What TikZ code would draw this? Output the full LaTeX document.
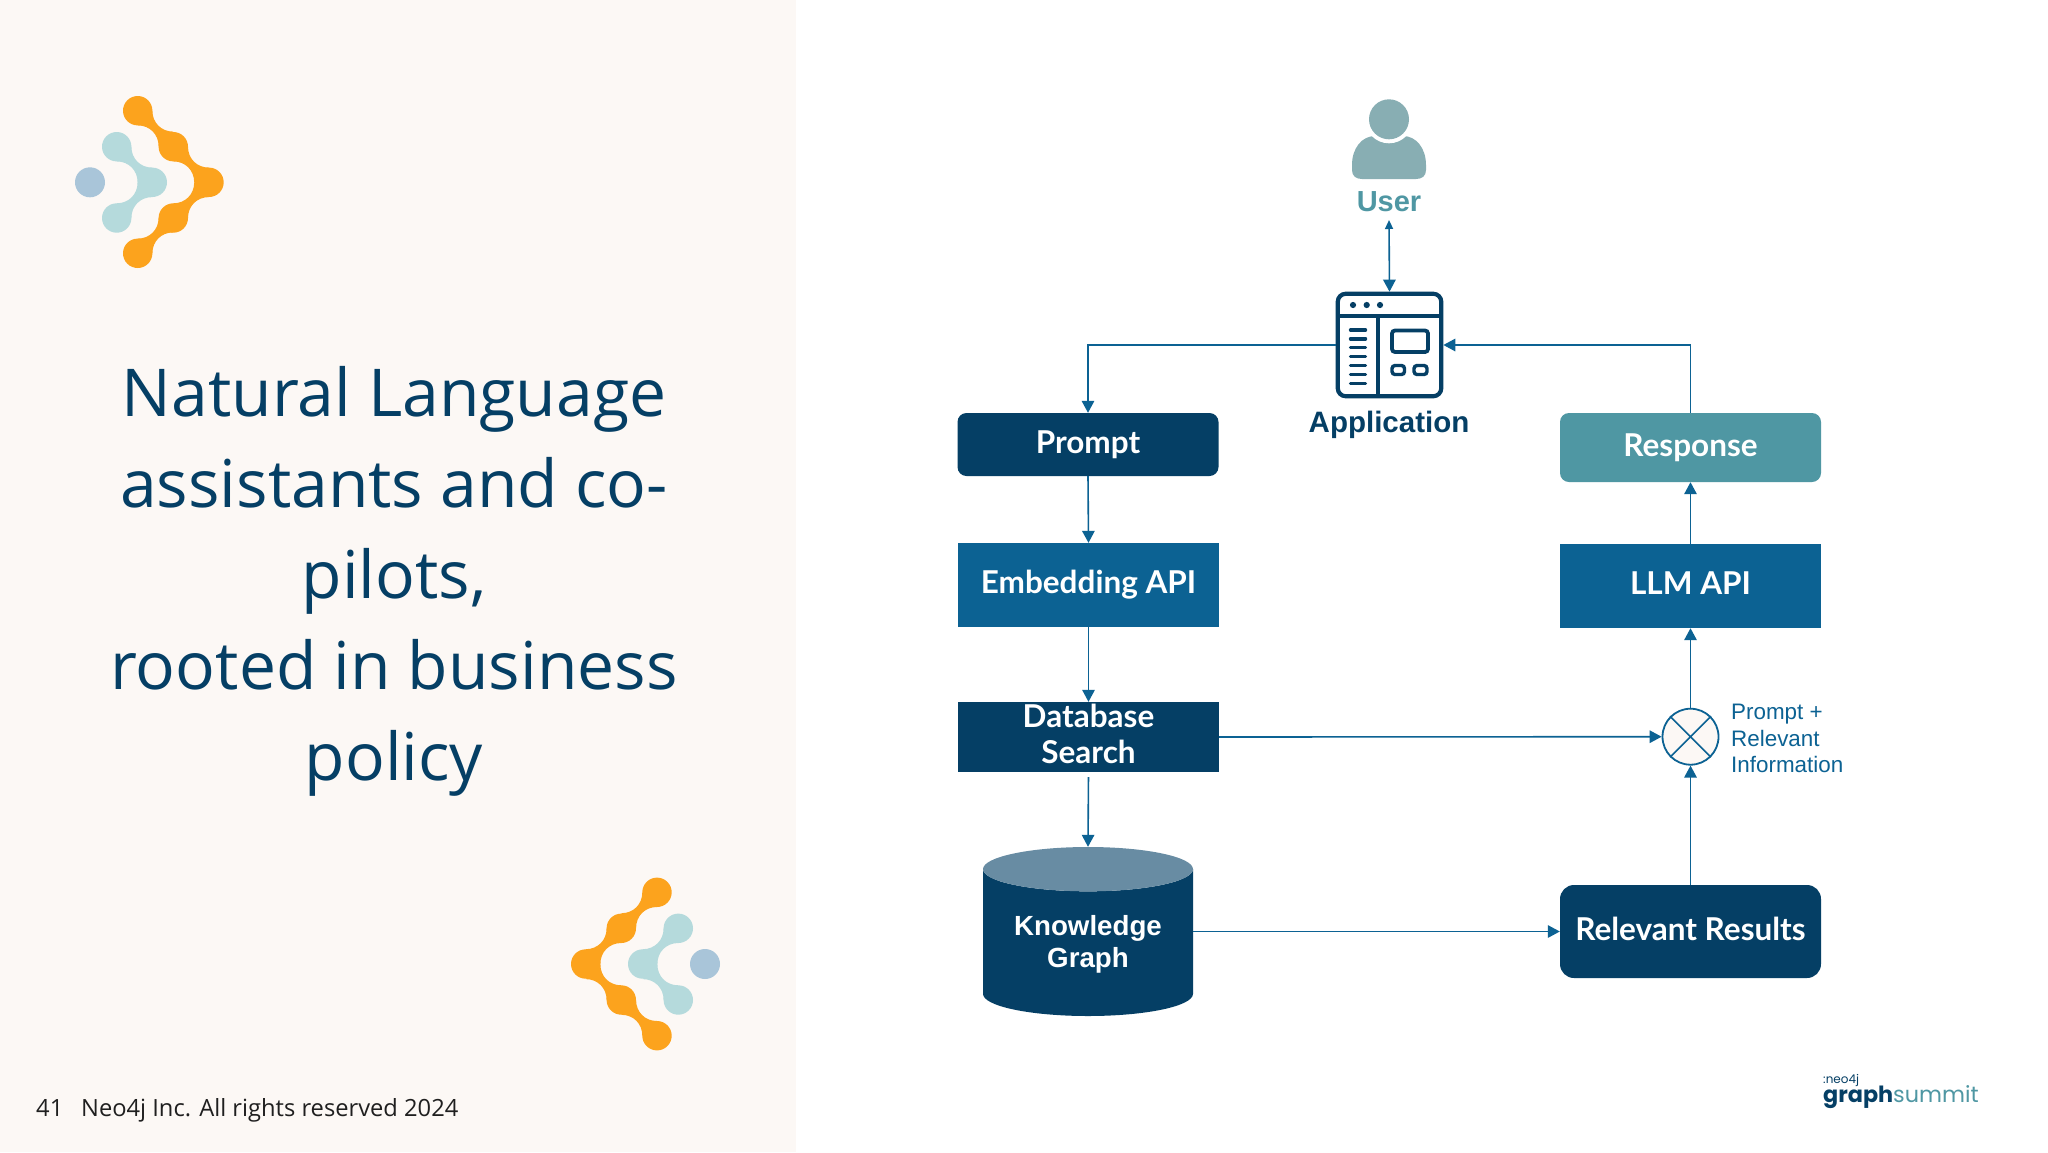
\documentclass[tikz,border=0pt]{standalone}
\usepackage{fontspec}
\usetikzlibrary{arrows.meta,shapes.geometric}
\setmainfont{Liberation Sans}
\newfontfamily\titlefont{Open Sans}
\newfontfamily\boxfont{Lato}
\newfontfamily\logofont{Poppins}
\definecolor{panel}{HTML}{FCF8F5}
\definecolor{navy}{HTML}{053F65}
\definecolor{midblue}{HTML}{0C6293}
\definecolor{tealbox}{HTML}{4F97A3}
\definecolor{usergrey}{HTML}{88AEB3}
\definecolor{cyltop}{HTML}{688CA3}
\definecolor{orangeL}{HTML}{FCA31D}
\definecolor{tealL}{HTML}{B5DADC}
\definecolor{blueL}{HTML}{A9C5D9}
\newcommand\neck[5]{\fill[#1,shift={(#2,#3)},xscale=#4,yscale=#5]
  (0,14.7) .. controls (12,14.7) and (20.9,23.6) .. (20.9,35.6) -- (35.6,20.9)
  .. controls (23.6,20.9) and (14.7,12) .. (14.7,0) -- cycle;}
\tikzset{
  boxfontstyle/.style={text=white,minimum width=261pt,inner sep=0pt,
    font=\boxfont\bfseries\fontsize{31.5}{36}\selectfont},
  boxbase/.style={boxfontstyle,text height=22pt,text depth=5pt},
  darkround/.style={boxbase,fill=navy,rounded corners=9pt},
  tealround/.style={boxbase,fill=tealbox,rounded corners=9pt},
  bluerect/.style={boxbase,fill=midblue},
  conn/.style={draw=midblue,line width=1.6pt,-{Triangle[length=12pt,width=12.5pt]}},
  titleline/.style={text=navy,font=\titlefont\fontsize{66}{80}\selectfont,anchor=base,inner sep=0pt},
  iconline/.style={draw=navy,line width=4.2pt},
}
\begin{document}
\begin{tikzpicture}[x=1pt,y=-1pt]
\useasboundingbox (0,0) rectangle (2048,1152);
\fill[white] (0,0) rectangle (2048,1152);
\fill[panel] (0,0) rectangle (796,1152);
% logo 1
\foreach \x/\y in {137.7/110.7,173.3/146.7,209/182.3,173.3/218,137.7/253.3} \fill[orangeL] (\x,\y) circle (14.7);
\neck{orangeL}{137.7}{110.7}{1}{1}\neck{orangeL}{173.3}{146.7}{1}{1}
\neck{orangeL}{137.7}{253.3}{1}{-1}\neck{orangeL}{173.3}{218}{1}{-1}
\foreach \x/\y in {116.7/146.7,152.3/182.3,116.7/218} \fill[tealL] (\x,\y) circle (14.7);
\neck{tealL}{116.7}{146.7}{1}{1}\neck{tealL}{116.7}{218}{1}{-1}
\fill[blueL] (90,182.3) circle (15);
% logo 2
\foreach \x/\y in {657/892.3,621.3/928.3,585.7/964,621.3/1000,657/1035.7} \fill[orangeL] (\x,\y) circle (14.7);
\neck{orangeL}{657}{892.3}{-1}{1}\neck{orangeL}{621.3}{928.3}{-1}{1}
\neck{orangeL}{657}{1035.7}{-1}{-1}\neck{orangeL}{621.3}{1000}{-1}{-1}
\foreach \x/\y in {678.3/928.3,642.7/964,678.3/1000} \fill[tealL] (\x,\y) circle (14.7);
\neck{tealL}{678.3}{928.3}{-1}{1}\neck{tealL}{678.3}{1000}{-1}{-1}
\fill[blueL] (705,964) circle (15);
% title
\node[titleline] (t1) at (394,416.5) {Natural Language};
\node[titleline] (t2) at (394,507.5) {assistants and co-};
\node[titleline] (t3) at (394,598.5) {pilots,};
\node[titleline] (t4) at (394,689.5) {rooted in business};
\node[titleline] (t5) at (394,780.5) {policy};
% footer
\node[anchor=base west,inner sep=0pt,text=black!88,font=\titlefont\fontsize{23.7}{28}\selectfont] (pg) at (36,1116) {41};
\node[anchor=base west,inner sep=0pt,text=black!88,font=\titlefont\fontsize{23.7}{28}\selectfont] (foot) at (81,1116) {Neo4j Inc. All rights reserved 2024};
% boxes
\node[darkround,minimum height=63pt] (prompt) at (1088,444.5) {Prompt};
\node[bluerect,minimum height=84pt] (embed) at (1088.5,585) {Embedding API};
\node[boxfontstyle,fill=navy,minimum height=70pt,align=center] (db) at (1088.5,737) {Database\\Search\rule[-6pt]{0pt}{6pt}};
\node[cylinder,anchor=shape center,shape border rotate=90,shape aspect=.3,cylinder uses custom fill,cylinder body fill=navy,cylinder end fill=cyltop,
  minimum width=210pt,minimum height=169pt,inner sep=0pt,text=white,align=center,
  font=\bfseries\fontsize{27.7}{32}\selectfont] (kg) at (1088,931.5) {\rule{0pt}{24pt}Knowledge\\Graph};
\node[tealround,minimum height=69pt] (resp) at (1690.5,447.5) {Response};
\node[bluerect,minimum height=84pt] (llm) at (1690.5,586) {LLM API};
\node[darkround,rounded corners=14pt,minimum height=93pt] (rr) at (1690.5,931.5) {Relevant Results};
\node[draw=midblue,line width=1.8pt,fill=panel,circle,minimum size=56pt,inner sep=0pt] (mix) at (1690.5,736.7) {};
\draw[midblue,line width=1.6pt] (mix.45) -- (mix.225) (mix.135) -- (mix.-45);
\node[anchor=north west,inner sep=0pt,text=midblue,align=left,font=\fontsize{22.4}{26.5}\selectfont] (mixlab) at (1731,704) {Prompt +\\Relevant\\Information};
% user
\fill[usergrey] (1352,170) .. controls (1352,176) and (1356,179) .. (1362,179) -- (1416,179)
  .. controls (1422,179) and (1426,176) .. (1426,170) -- (1426,165)
  .. controls (1426,148) and (1416,136) .. (1403,136) -- (1375,136)
  .. controls (1362,136) and (1352,148) .. (1352,165) -- cycle;
\fill[white] (1389,119.3) circle (24);
\node[circle,fill=usergrey,minimum size=40pt,inner sep=0pt] (head) at (1389,119.3) {};
\node[anchor=base,inner sep=0pt,text=tealbox,font=\bfseries\fontsize{29}{32}\selectfont] (user) at (1389,211) {User};
% application icon
\node[draw=navy,line width=4.2pt,rounded corners=8pt,minimum width=103.5pt,minimum height=102.5pt,inner sep=0pt] (app) at (1389.5,345) {};
\draw[iconline] (1338,316) -- (1441,316);
\draw[iconline] (1377.7,316) -- (1377.7,396);
\foreach \x in {1353,1366.7,1380} \fill[navy] (\x,305) circle (3.1);
\foreach \y in {330,338.8,347.7,356.7,365.7,374.7,383.4} \draw[navy,line width=3.4pt,line cap=round] (1350.5,\y) -- (1365.5,\y);
\draw[iconline,line width=3.8pt,rounded corners=3pt] (1392,330.5) rectangle (1428,352);
\draw[iconline,line width=3.4pt,rounded corners=3pt] (1392,365.5) rectangle (1404.5,374.5);
\draw[iconline,line width=3.4pt,rounded corners=3pt] (1414,365.5) rectangle (1427,374.5);
\node[anchor=base,inner sep=0pt,text=navy,font=\bfseries\fontsize{29.5}{32}\selectfont] (applab) at (1389,432) {Application};
% connectors
\coordinate (utop) at (1389,220);
\draw[draw=midblue,line width=1.6pt,{Triangle[length=9pt,width=8pt]}-{Triangle[length=12pt,width=12.5pt]}] (utop) -- (app.north);
\draw[conn] (app.west) -| (prompt.north);
\draw[conn] (resp.north) |- (app.east);
\draw[conn] (prompt.south) -- (embed.north);
\draw[conn] (embed.south) -- (db.north);
\draw[conn,shorten <=5pt] (db.south) -- (kg.north);
\draw[conn] (db.east) -- (mix.west);
\draw[conn] (kg.east |- rr.west) -- (rr.west);
\draw[conn] (rr.north) -- (mix.south);
\draw[conn] (mix.north) -- (llm.south);
\draw[conn] (llm.north) -- (resp.south);
% brand
\node[anchor=base west,inner sep=0pt,text=navy,font=\logofont\fontsize{12}{14}\selectfont] (neo) at (1823,1083) {:neo4j};
\node[anchor=base west,inner sep=0pt,font=\logofont\fontsize{22.3}{26}\selectfont] (brand) at (1823,1102) {\textcolor{navy}{\bfseries graph}\textcolor{tealbox}{summit}};
\end{tikzpicture}
\end{document}
